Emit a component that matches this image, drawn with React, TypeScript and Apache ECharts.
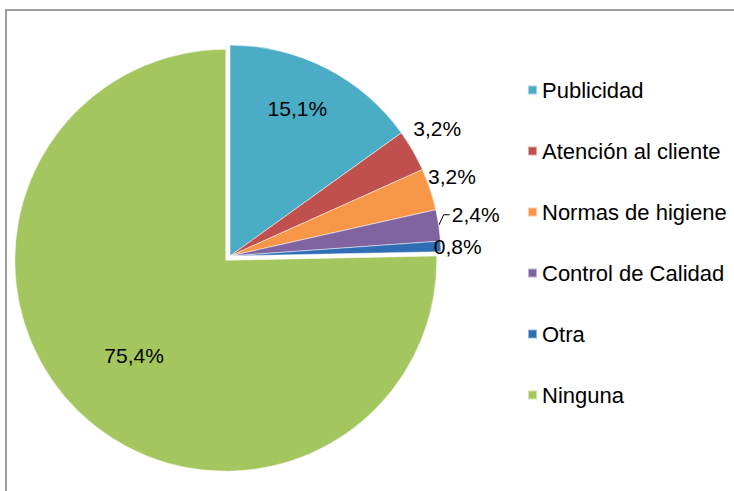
import React, { useEffect, useRef } from "react";
import * as echarts from "echarts";

const categories = [
  "Publicidad",
  "Atención al cliente",
  "Normas de higiene",
  "Control de Calidad",
  "Otra",
  "Ninguna",
];
const values = [15.1, 3.2, 3.2, 2.4, 0.8, 75.4];
const colors = ["#4BACC6", "#C0504D", "#F79646", "#8064A2", "#2F6DB5", "#A3C65E"];
const insideLabels = [true, false, false, false, false, true];

const CX = 230;
const CY = 256;
const R = 211;

export default function App() {
  const ref = useRef<HTMLDivElement>(null);
  useEffect(() => {
    if (!ref.current) return;
    const chart = echarts.init(ref.current, null, { renderer: "svg" });
    const font = "'Liberation Sans', Arial, sans-serif";
    const insideShift: Record<number, [number, number]> = { 0: [-3, -10], 5: [4, -2] };
    const insideScale: Record<number, number> = { 0: 1.42, 5: 1.26 };
    const outsideShift: Record<number, [number, number]> = {
      1: [-12, -20],
      2: [-15, -12],
      3: [0, -10],
      4: [-20, 0],
    };
    chart.setOption({
      animation: false,
      backgroundColor: "#ffffff",
      color: colors,
      graphic: [
        {
          type: "rect",
          shape: { x: 6, y: 10, width: 760, height: 520 },
          style: { fill: "none", stroke: "#9c9c9c", lineWidth: 2 },
          silent: true,
        },
      ],
      legend: {
        orient: "vertical",
        left: 522,
        top: 74,
        itemWidth: 9,
        itemHeight: 9,
        itemGap: 39,
        icon: "rect",
        data: categories,
        textStyle: {
          fontFamily: font,
          fontSize: 22,
          color: "#000",
          lineHeight: 22,
        },
        selectedMode: false,
      },
      series: [
        {
          type: "pie",
          center: [CX, CY],
          radius: [0, R],
          startAngle: 90,
          clockwise: true,
          selectedMode: "single",
          selectedOffset: 6,
          avoidLabelOverlap: false,
          itemStyle: { borderColor: "rgba(255,255,255,0.5)", borderWidth: 1 },
          label: {
            fontFamily: font,
            fontSize: 21,
            color: "#000",
            formatter: (p: any) => p.value.toFixed(1).replace(".", ",") + "%",
          },
          labelLine: { show: false, length: 4, length2: 4, lineStyle: { color: "#000", width: 1 } },
          labelLayout: (params: any) => {
            const i = params.dataIndex;
            const r = params.labelRect;
            const k = insideScale[i];
            if (k) {
              const lx = r.x + r.width / 2;
              const ly = r.y + r.height / 2;
              const s = insideShift[i];
              return { dx: (lx - CX) * (k - 1) + s[0], dy: (ly - CY) * (k - 1) + s[1] };
            }
            const s = outsideShift[i];
            if (!s) return {};
            const out: any = { dx: s[0], dy: s[1] };
            if (i === 3 && params.labelLinePoints) {
              const start = params.labelLinePoints[0];
              const ex = r.x + s[0] - 2;
              const ey = r.y + r.height / 2 + s[1];
              out.labelLinePoints = [start, [ex - 6, ey], [ex, ey]];
            }
            return out;
          },
          data: categories.map((name, i) => ({
            name,
            value: values[i],
            selected: name === "Ninguna",
            label: { position: insideLabels[i] ? "inside" : "outside" },
            labelLine: { show: i === 3 },
          })),
        },
      ],
    });
    return () => chart.dispose();
  }, []);
  return (
    <div
      ref={ref}
      style={{ position: "fixed", left: 0, top: 0, width: 734, height: 491 }}
    />
  );
}
